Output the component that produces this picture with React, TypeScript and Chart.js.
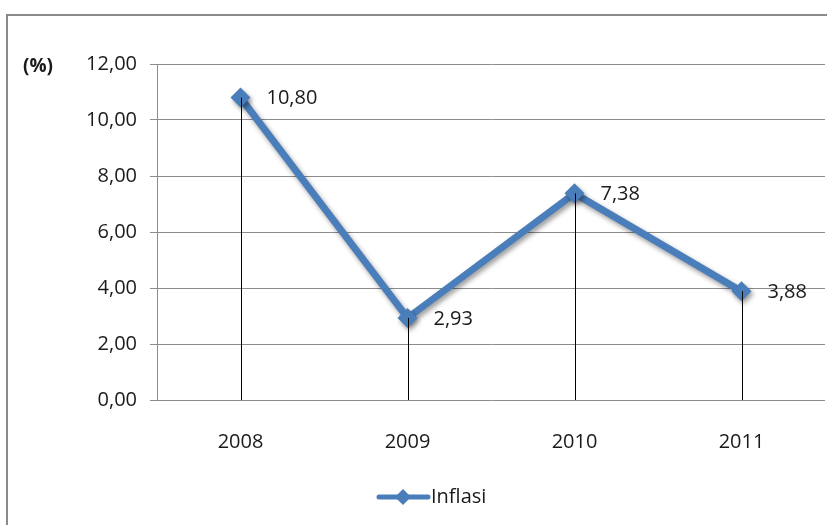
import React, { useEffect, useRef } from "react";
import { Chart, registerables } from "chart.js";

Chart.register(...registerables);

const categories = ["2008", "2009", "2010", "2011"];
const inflasi = [10.8, 2.93, 7.38, 3.88];
const seriesName = "Inflasi";
const unitLabel = "(%)";
const yMin = 0;
const yMax = 12;
const yStep = 2;

const BLUE = "#4A7EBB";
const GRID = "#8C8C8C";
const TEXT = "#1a1a1a";
const FONT = "'Open Sans', 'DejaVu Sans', sans-serif";
const FS = 20;

const fmt = (v: number) => v.toFixed(2).replace(".", ",");

export default function App() {
  const ref = useRef<HTMLCanvasElement | null>(null);

  useEffect(() => {
    if (!ref.current) return;

    const decor = {
      id: "decor",
      beforeDraw(chart: any) {
        const ctx = chart.ctx;
        ctx.save();
        ctx.strokeStyle = "#8A8A8A";
        ctx.lineWidth = 2;
        ctx.beginPath();
        ctx.moveTo(7, 525);
        ctx.lineTo(7, 15);
        ctx.lineTo(827, 15);
        ctx.stroke();
        ctx.restore();
      },
      beforeDatasetsDraw(chart: any) {
        const ctx = chart.ctx;
        ctx.save();
        ctx.shadowColor = "rgba(0,0,0,0.4)";
        ctx.shadowBlur = 5;
        ctx.shadowOffsetX = 2;
        ctx.shadowOffsetY = 3;
      },
      afterDatasetsDraw(chart: any) {
        const ctx = chart.ctx;
        ctx.restore();
        const area = chart.chartArea;
        const meta = chart.getDatasetMeta(0);
        ctx.save();
        ctx.strokeStyle = "#000000";
        ctx.lineWidth = 1;
        meta.data.forEach((pt: any) => {
          const x = Math.round(pt.x) + 0.5;
          ctx.beginPath();
          ctx.moveTo(x, pt.y);
          ctx.lineTo(x, area.bottom);
          ctx.stroke();
        });
        ctx.fillStyle = TEXT;
        ctx.font = `${FS}px ${FONT}`;
        ctx.textBaseline = "middle";
        ctx.textAlign = "left";
        meta.data.forEach((pt: any, i: number) => {
          ctx.fillText(fmt(inflasi[i]), pt.x + 26, pt.y + 1);
        });
        // unit label
        ctx.font = `bold 19px ${FONT}`;
        ctx.fillText(unitLabel, 23, area.top + 3);
        // legend
        const ly = 497;
        ctx.strokeStyle = BLUE;
        ctx.lineWidth = 5;
        ctx.lineCap = "round";
        ctx.beginPath();
        ctx.moveTo(379, ly);
        ctx.lineTo(428, ly);
        ctx.stroke();
        ctx.fillStyle = BLUE;
        ctx.beginPath();
        ctx.moveTo(403, ly - 8);
        ctx.lineTo(411, ly);
        ctx.lineTo(403, ly + 8);
        ctx.lineTo(395, ly);
        ctx.closePath();
        ctx.fill();
        ctx.fillStyle = TEXT;
        ctx.font = `${FS}px ${FONT}`;
        ctx.fillText(seriesName, 431, ly);
        ctx.restore();
      },
    };

    const chart = new Chart(ref.current, {
      type: "line",
      data: {
        labels: categories,
        datasets: [
          {
            label: seriesName,
            data: inflasi,
            borderColor: BLUE,
            backgroundColor: BLUE,
            borderWidth: 7,
            pointStyle: "rectRot",
            pointRadius: 10,
            pointBorderWidth: 0,
            pointBackgroundColor: BLUE,
            tension: 0,
            borderJoinStyle: "miter",
          },
        ],
      },
      options: {
        animation: false,
        responsive: false,
        maintainAspectRatio: false,
        layout: { padding: { left: 0, right: 12, top: 64, bottom: 0 } },
        plugins: {
          legend: { display: false },
          tooltip: { enabled: false },
        },
        scales: {
          x: {
            offset: true,
            grid: { display: false },
            border: { display: false },
            ticks: {
              color: TEXT,
              font: { family: FONT, size: FS },
              padding: 22,
            },
            afterFit: (s: any) => {
              s.height = 125;
            },
          },
          y: {
            min: yMin,
            max: yMax,
            ticks: {
              stepSize: yStep,
              color: TEXT,
              font: { family: FONT, size: FS },
              padding: 13,
              callback: (v: any) => fmt(Number(v)),
            },
            grid: {
              color: GRID,
              lineWidth: 1,
              tickLength: 7,
              drawTicks: true,
            },
            border: { display: true, color: GRID, width: 1 },
            afterFit: (s: any) => {
              s.width = 157;
            },
          },
        },
      },
      plugins: [decor],
    });
    return () => chart.destroy();
  }, []);

  return (
    <div style={{ position: "fixed", left: 0, top: 0, width: 837, height: 525, background: "#fff" }}>
      <canvas ref={ref} width={837} height={525} style={{ width: 837, height: 525 }} />
    </div>
  );
}
